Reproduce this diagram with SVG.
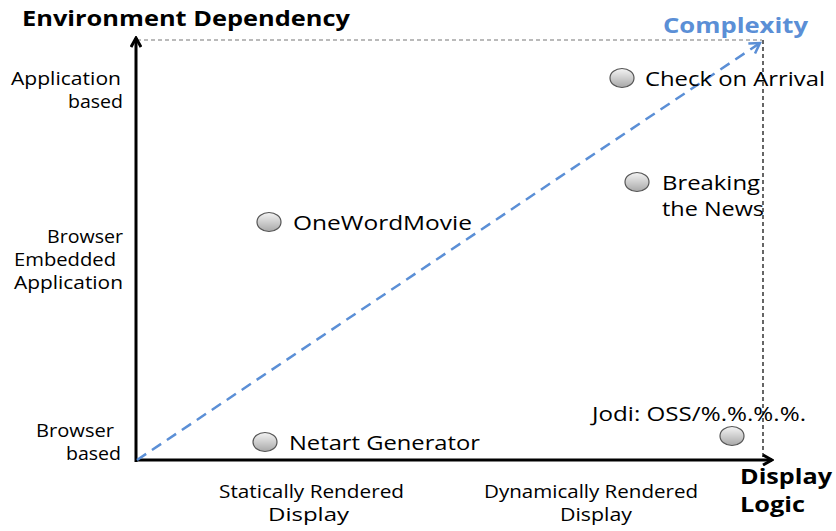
<svg xmlns="http://www.w3.org/2000/svg" width="836" height="531" viewBox="0 0 836 531">
<defs>
<linearGradient id="g" x1="0" y1="0" x2="0" y2="1">
<stop offset="0" stop-color="#f4f4f4"/>
<stop offset="1" stop-color="#a8a8a8"/>
</linearGradient>
<marker id="ah" markerWidth="12" markerHeight="12" refX="10" refY="6" orient="auto" markerUnits="userSpaceOnUse">
<path d="M1,1 L10,6 L1,11" fill="none" stroke="#000" stroke-width="3"/>
</marker>
<marker id="bh" markerWidth="14" markerHeight="14" refX="11" refY="7" orient="auto" markerUnits="userSpaceOnUse">
<path d="M1,1 L11,7 L1,13" fill="none" stroke="#5b8fd6" stroke-width="2.5"/>
</marker>
</defs>
<style>
text{font-family:"Open Sans","Noto Sans","DejaVu Sans",sans-serif;fill:#000}
.l{font-size:18px}
.n{font-size:20px}
.b{font-size:22px;font-weight:bold}
.dot{fill:url(#g);stroke:#555;stroke-width:1.2}
</style>
<g id="connectors">
<line x1="137" y1="40" x2="762" y2="40" stroke="#777" stroke-width="1.2" stroke-dasharray="4,3"/>
<line x1="763" y1="40" x2="763" y2="460" stroke="#000" stroke-width="1.2" stroke-dasharray="4,3"/>
<line x1="136" y1="462" x2="136" y2="38" stroke="#000" stroke-width="3" marker-end="url(#ah)"/>
<line x1="135" y1="460" x2="772" y2="460" stroke="#000" stroke-width="3" marker-end="url(#ah)"/>
<line x1="137" y1="460" x2="760" y2="43" stroke="#5b8fd6" stroke-width="2.5" stroke-dasharray="11,7" marker-end="url(#bh)"/>
</g>
<g id="axis-labels">
<text class="b" x="22" y="26" textLength="328" lengthAdjust="spacingAndGlyphs">Environment Dependency</text>
<text class="b" x="663" y="33" textLength="145" lengthAdjust="spacingAndGlyphs" style="fill:#5b8fd6">Complexity</text>
<text class="b" x="740" y="484" textLength="92" lengthAdjust="spacingAndGlyphs">Display</text>
<text class="b" x="740" y="512" textLength="65" lengthAdjust="spacingAndGlyphs">Logic</text>
<text class="l" x="11" y="85" textLength="110" lengthAdjust="spacingAndGlyphs">Application</text>
<text class="l" x="68" y="108" textLength="55" lengthAdjust="spacingAndGlyphs">based</text>
<text class="l" x="47" y="243" textLength="76" lengthAdjust="spacingAndGlyphs">Browser</text>
<text class="l" x="14" y="266" textLength="102" lengthAdjust="spacingAndGlyphs">Embedded</text>
<text class="l" x="14" y="289" textLength="109" lengthAdjust="spacingAndGlyphs">Application</text>
<text class="l" x="36" y="437" textLength="78" lengthAdjust="spacingAndGlyphs">Browser</text>
<text class="l" x="66" y="460" textLength="55" lengthAdjust="spacingAndGlyphs">based</text>
<text class="l" x="219" y="498" textLength="185" lengthAdjust="spacingAndGlyphs">Statically Rendered</text>
<text class="l" x="268" y="521" textLength="81" lengthAdjust="spacingAndGlyphs">Display</text>
<text class="l" x="484" y="498" textLength="214" lengthAdjust="spacingAndGlyphs">Dynamically Rendered</text>
<text class="l" x="560" y="521" textLength="72" lengthAdjust="spacingAndGlyphs">Display</text>
</g>
<g id="check-on-arrival">
<ellipse class="dot" cx="622" cy="78" rx="12" ry="9.5"/>
<text class="n" x="645" y="86" textLength="180" lengthAdjust="spacingAndGlyphs">Check on Arrival</text>
</g>
<g id="breaking-the-news">
<ellipse class="dot" cx="637" cy="182" rx="12" ry="9.5"/>
<text class="n" x="662" y="190" textLength="98" lengthAdjust="spacingAndGlyphs">Breaking</text>
<text class="n" x="662" y="216" textLength="102" lengthAdjust="spacingAndGlyphs">the News</text>
</g>
<g id="onewordmovie">
<ellipse class="dot" cx="269" cy="222" rx="12" ry="9.5"/>
<text class="n" x="293" y="230" textLength="179" lengthAdjust="spacingAndGlyphs">OneWordMovie</text>
</g>
<g id="netart-generator">
<ellipse class="dot" cx="265" cy="442" rx="12" ry="9.5"/>
<text class="n" x="289" y="450" textLength="191" lengthAdjust="spacingAndGlyphs">Netart Generator</text>
</g>
<g id="jodi">
<ellipse class="dot" cx="732" cy="436" rx="12" ry="9.5"/>
<text class="n" x="592" y="421" textLength="214" lengthAdjust="spacingAndGlyphs">Jodi: OSS/%.%.%.%.</text>
</g>
</svg>
